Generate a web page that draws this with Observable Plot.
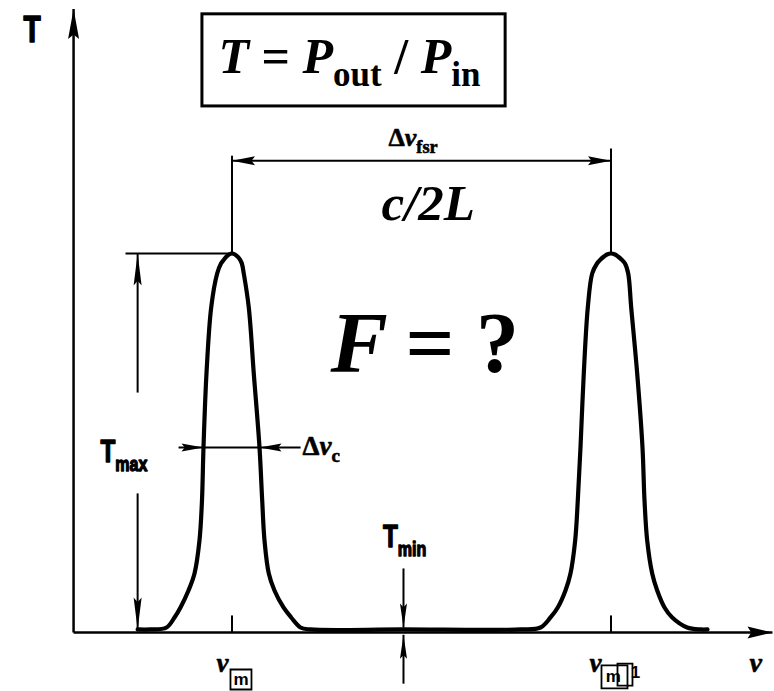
<!DOCTYPE html>
<html>
<head>
<meta charset="utf-8">
<script src="https://cdn.jsdelivr.net/npm/d3@7"></script>
<script src="https://cdn.jsdelivr.net/npm/@observablehq/plot@0.6"></script>
<style>
  html, body { margin: 0; padding: 0; background: #fff; }
  svg { display: block; }
</style>
</head>
<body>
<div id="chart"></div>
<script>
// Fabry–Pérot transmission T(ν). Frequency is measured in free spectral ranges
// (ν_m at 0, ν_m+1 at 1); transmission is measured in units of T_max.
const resonances = [0, 1];
const Tmax = 1;
const Tmin = 0.008;
const Thalf = 0.4881;

// traced transmission curve, [ν, T]
const transmission = [
  [-0.249, 0.008], [-0.215, 0.008],
  [-0.1728, 0.0132], [-0.1517, 0.0396], [-0.1359, 0.066], [-0.1148, 0.1108],
  [-0.0989, 0.1557], [-0.0858, 0.2427], [-0.0792, 0.3483], [-0.0752, 0.4881],
  [-0.0673, 0.6834], [-0.0549, 0.8575], [-0.0391, 0.9472], [-0.029, 0.9736],
  [-0.0211, 0.984], [-0.0145, 0.992], [-0.0079, 0.9974], [0, 1],
  [0.0079, 0.9974], [0.0145, 0.992], [0.0211, 0.984], [0.026, 0.9736],
  [0.0311, 0.9472], [0.0443, 0.8575], [0.0575, 0.6834],
  [0.0726, 0.4881], [0.0797, 0.3483], [0.0858, 0.2427], [0.0971, 0.1557],
  [0.1121, 0.1108], [0.1359, 0.066], [0.1562, 0.0396], [0.1807, 0.0132],
  [0.2071, 0.008], [0.45, 0.008], [0.7612, 0.008],
  [0.814, 0.0132], [0.8404, 0.0396], [0.8596, 0.066], [0.8799, 0.1108],
  [0.8931, 0.1557], [0.9055, 0.2427], [0.9124, 0.3483], [0.9195, 0.4881],
  [0.9282, 0.6834], [0.9388, 0.8575], [0.9504, 0.9472], [0.9631, 0.9736],
  [0.9723, 0.984], [0.9815, 0.992], [0.9894, 0.9974], [1, 1],
  [1.0106, 0.9974], [1.0185, 0.992], [1.0277, 0.984], [1.0369, 0.9736],
  [1.0454, 0.9472], [1.0533, 0.8575], [1.0691, 0.6834],
  [1.0831, 0.4881], [1.0884, 0.3483], [1.0955, 0.2427], [1.1087, 0.1557],
  [1.1219, 0.1108], [1.1412, 0.066], [1.1615, 0.0396], [1.2011, 0.0132],
  [1.2361, 0.008], [1.2546, 0.008]
];

// axes and dimension lines
const axisOrigin = -0.418;
const nuAxisEnd = 1.426;
const TAxisEnd = 1.645;
const fsrLevel = 1.245;
const fsrMarkTops = [1.258, 1.277];
const tmaxGuideStart = -0.281;
const tmaxArrowNu = -0.249;
const tmaxLabelGap = [0.633, 0.367];
const linewidthSpan = [-0.141, 0.181];
const tminNu = 0.4525;
const tminArrowTails = [0.169, -0.135];
const tminBelow = -0.006;
const tickHeight = 0.045;
const formulaBox = [{x1: -0.078, x2: 0.722, y1: 1.388, y2: 1.631}];

// texts: "*…*" italic, "_{…}" subscript
const yTitle = [{nu: -0.5501, T: 1.5567, text: "T"}];
const xTitle = [{nu: 1.3654, T: -0.1055, text: "ν"}];
const formula = [{nu: -0.0356, T: 1.4749, text: "*T* = *P*_{out} / *P*_{in}"}];
const fsrLabel = [{nu: 0.4129, T: 1.2823, text: "Δ*ν*_{fsr}"}];
const fsrValue = [{nu: 0.3945, T: 1.0871, text: "c/2L"}];
const finesseSymbol = [{nu: 0.2599, T: 0.686, text: "F"}];
const finesseValue = [{nu: 0.4578, T: 0.686, text: "= ?"}];
const levelLabels = [
  {nu: -0.347, T: 0.4486, text: "T_{max}"},
  {nu: 0.3984, T: 0.2243, text: "T_{min}"}
];
const linewidthLabel = [{nu: 0.186, T: 0.467, text: "Δ*ν*_{c}"}];
const modeLabels = [
  {nu: -0.0409, T: -0.1055, text: "ν"},
  {nu: 0.9433, T: -0.1055, text: "ν"}
];
const modeIndexBoxes = [
  {nu: 0.0237, T: -0.124, w: 21, h: 20},
  {nu: 1.0092, T: -0.117, w: 26, h: 23},
  {nu: 1.0369, T: -0.111, w: 15, h: 22}
];
const modeIndexText = [
  {nu: 0.0237, T: -0.124, text: "m"},
  {nu: 1.0062, T: -0.117, text: "m"},
  {nu: 1.0646, T: -0.107, text: "1"}
];

const serif = "'Liberation Serif','Times New Roman','DejaVu Serif',serif";
const sans = "'Liberation Sans',Arial,'DejaVu Sans',sans-serif";

const seg = (x1, y1, x2, y2) => ({x1, y1, x2, y2});

const axes = [
  seg(axisOrigin, 0, axisOrigin, TAxisEnd),
  seg(axisOrigin, 0, nuAxisEnd, 0)
];

const linewidthEdges = transmission.filter(([nu, T]) => T === Thalf && nu < 0.5).map(d => d[0]);

const guides = [
  ...resonances.map((nu, i) => seg(nu, Tmax, nu, fsrMarkTops[i])),
  seg(resonances[0], fsrLevel, resonances[1], fsrLevel),
  seg(tmaxGuideStart, Tmax, resonances[0], Tmax),
  seg(tmaxArrowNu, Tmax, tmaxArrowNu, tmaxLabelGap[0]),
  seg(tmaxArrowNu, tmaxLabelGap[1], tmaxArrowNu, Tmin),
  seg(linewidthSpan[0], Thalf, linewidthSpan[1], Thalf),
  seg(tminNu, tminArrowTails[0], tminNu, Tmin + 0.005),
  seg(tminNu, tminBelow, tminNu, tminArrowTails[1]),
  ...resonances.map(nu => seg(nu, 0, nu, tickHeight))
];

// filled arrowhead with its tip at the anchor point
function head(points, dir, length, width) {
  const [ux, uy] = {up: [0, -1], down: [0, 1], left: [-1, 0], right: [1, 0]}[dir];
  const symbol = {
    draw(ctx) {
      const bx = -ux * length, by = -uy * length;
      const px = -uy * width / 2, py = ux * width / 2;
      ctx.moveTo(0, 0);
      ctx.lineTo(bx + px, by + py);
      ctx.lineTo(bx * 0.85, by * 0.85);
      ctx.lineTo(bx - px, by - py);
      ctx.closePath();
    }
  };
  return Plot.dot(points, {x: d => d[0], y: d => d[1], symbol, r: 1, fill: "black", stroke: "none"});
}

function label(data, opts) {
  return Plot.text(data, {
    x: "nu", y: "T", text: "text",
    textAnchor: "start", lineAnchor: "bottom", fill: "black",
    ...opts
  });
}

function boxSymbol(w, h) {
  return {draw(ctx) { ctx.rect(-w / 2, -h / 2, w, h); }};
}

const chart = Plot.plot({
  width: 774,
  height: 691,
  margin: 0,
  x: {domain: [-0.6108, 1.4314], axis: null},
  y: {domain: [-0.1557, 1.6675], axis: null},
  style: {background: "white", overflow: "visible"},
  marks: [
    Plot.rect(formulaBox, {x1: "x1", x2: "x2", y1: "y1", y2: "y2", fill: "none", stroke: "black", strokeWidth: 3}),
    Plot.link(axes, {x1: "x1", y1: "y1", x2: "x2", y2: "y2", stroke: "black", strokeWidth: 2.5}),
    Plot.link(guides, {x1: "x1", y1: "y1", x2: "x2", y2: "y2", stroke: "black", strokeWidth: 2}),
    Plot.line(transmission, {
      x: d => d[0], y: d => d[1], curve: "catmull-rom",
      stroke: "black", strokeWidth: 4.2, strokeLinejoin: "round", strokeLinecap: "round"
    }),
    head([[axisOrigin, TAxisEnd]], "up", 30, 11),
    head([[nuAxisEnd, 0]], "right", 25, 12),
    head([[resonances[0], fsrLevel]], "left", 23, 9),
    head([[resonances[1], fsrLevel]], "right", 23, 9),
    head([[tmaxArrowNu, Tmax]], "up", 32, 8),
    head([[tmaxArrowNu, Tmin]], "down", 32, 8),
    head([[linewidthEdges[0], Thalf]], "right", 22, 8),
    head([[linewidthEdges[1], Thalf]], "left", 22, 8),
    head([[tminNu, Tmin + 0.005]], "down", 24, 7),
    head([[tminNu, tminBelow]], "up", 24, 7),

    label(yTitle, {fontFamily: sans, fontWeight: "bold", fontSize: 37, stroke: "black", strokeWidth: 1.6}),
    label(levelLabels, {fontFamily: sans, fontWeight: "bold", fontSize: 32, stroke: "black", strokeWidth: 1.4}),
    label(formula, {fontFamily: serif, fontWeight: "bold", fontSize: 50}),
    label(fsrLabel, {fontFamily: serif, fontWeight: "bold", fontSize: 26, stroke: "black", strokeWidth: 0.6}),
    label(linewidthLabel, {fontFamily: serif, fontWeight: "bold", fontSize: 27, stroke: "black", strokeWidth: 0.6}),
    label(fsrValue, {fontFamily: serif, fontWeight: "bold", fontStyle: "italic", fontSize: 51}),
    label(finesseSymbol, {fontFamily: serif, fontWeight: "bold", fontStyle: "italic", fontSize: 86}),
    label(finesseValue, {fontFamily: serif, fontWeight: "bold", fontSize: 86}),
    label(modeLabels, {fontFamily: serif, fontWeight: "bold", fontStyle: "italic", fontSize: 27, stroke: "black", strokeWidth: 0.6}),
    label(xTitle, {fontFamily: serif, fontWeight: "bold", fontStyle: "italic", fontSize: 28, stroke: "black", strokeWidth: 0.6}),

    ...modeIndexBoxes.map(b => Plot.dot([b], {
      x: "nu", y: "T", symbol: boxSymbol(b.w, b.h), r: 1,
      fill: "none", stroke: "black", strokeWidth: 1.8
    })),
    Plot.text(modeIndexText, {
      x: "nu", y: "T", text: "text", textAnchor: "middle", lineAnchor: "middle",
      fontFamily: sans, fontWeight: "bold", fontSize: 17, fill: "black"
    })
  ]
});

// turn "*…*" into italic spans and "_{…}" into subscripts;
// the sans labels are set condensed, like typewriter lettering
function richText(svg) {
  const ns = "http://www.w3.org/2000/svg";
  for (const el of svg.querySelectorAll("text")) {
    const g = el.closest("g");
    const family = (g && g.getAttribute("font-family")) || "";
    const size = +((g && g.getAttribute("font-size")) || 0);
    const condensed = family.startsWith("'Liberation Sans'") && size > 20;
    if (condensed) {
      el.setAttribute("transform", (el.getAttribute("transform") || "") + " scale(0.76,1)");
    }
    const s = el.textContent;
    if (!/[*_]/.test(s)) continue;
    const parts = s.split(/(\*[^*]+\*|_\{[^}]*\})/).filter(p => p !== "");
    const ratio = condensed ? 0.66 : 0.7;
    const drop = condensed ? 0.4 : 0.36;
    el.textContent = "";
    let lowered = false;
    for (const p of parts) {
      const t = document.createElementNS(ns, "tspan");
      if (p.startsWith("_{")) {
        t.textContent = p.slice(2, -1);
        t.setAttribute("font-size", `${ratio * 100}%`);
        t.setAttribute("font-style", "normal");
        t.setAttribute("dy", `${drop}em`);
        lowered = true;
      } else {
        if (p.startsWith("*")) {
          t.textContent = p.slice(1, -1);
          t.setAttribute("font-style", "italic");
        } else {
          t.textContent = p;
        }
        if (lowered) { t.setAttribute("dy", `${-drop * ratio}em`); lowered = false; }
      }
      el.appendChild(t);
    }
  }
}
richText(chart);

document.getElementById("chart").appendChild(chart);
</script>
</body>
</html>
